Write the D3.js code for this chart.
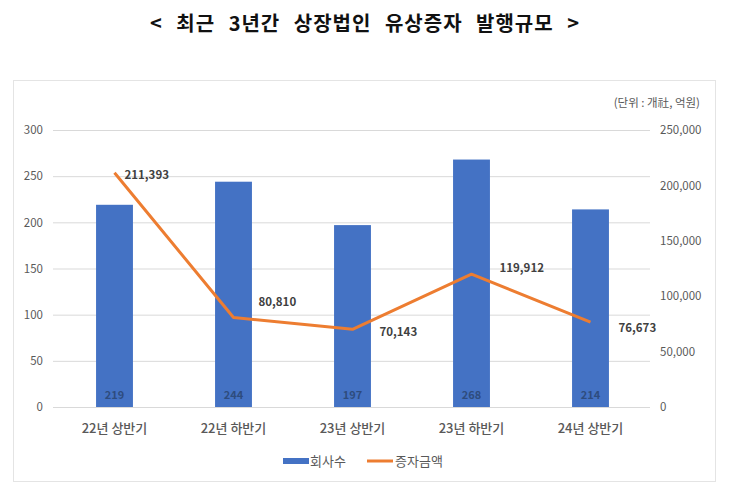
<!DOCTYPE html>
<html><head><meta charset="utf-8">
<script src="https://cdn.jsdelivr.net/npm/d3@7"></script>
<style>body{margin:0;background:#fff}svg{display:block}</style>
</head><body>
<svg id="c" width="730" height="498"></svg>
<script>
const categories = ["22년 상반기","22년 하반기","23년 상반기","23년 하반기","24년 상반기"];
const companyCounts = [219,244,197,268,214];
const issueAmounts = [211393,80810,70143,119912,76673];
const leftTicks = [0,50,100,150,200,250,300];
const rightTicks = [0,50000,100000,150000,200000,250000];
const seriesNames = ["회사수","증자금액"];
const titleText = "< 최근 3년간 상장법인 유상증자 발행규모 >";
const unitText = "(단위 : 개社, 억원)";
// label offsets (style)
const amtLabelOffsets = [[10,2],[25,-15],[27,3],[28,-6],[28,6]];

const svg = d3.select("#c");
const font = "'Noto Sans CJK KR','Noto Sans',sans-serif";
const blue = "#4472C4", orange = "#ED7D31", grid = "#D9D9D9", txt = "#595959";

svg.append("text").attr("x",365).attr("y",31).attr("text-anchor","middle")
  .attr("font-family",font).attr("font-weight","bold").attr("font-size",20).attr("fill","#111")
  .attr("letter-spacing",1).attr("word-spacing",8)
  .text(titleText);

svg.append("rect").attr("x",13.5).attr("y",80.5).attr("width",702).attr("height",401)
  .attr("fill","#fff").attr("stroke","#E4E4E4");

const x = d3.scaleBand().domain(categories).range([55,650]).paddingInner(0.69).paddingOuter(0.345);
const yL = d3.scaleLinear().domain([0,300]).range([407,130]);
const yR = d3.scaleLinear().domain([0,250000]).range([407,130]);

// gridlines
svg.append("g").selectAll("line").data(leftTicks).join("line")
  .attr("x1",53).attr("x2",650).attr("y1",d=>yL(d)+0.5).attr("y2",d=>yL(d)+0.5)
  .attr("stroke",grid).attr("stroke-width",1);

// left axis
const gL = svg.append("g").attr("transform","translate(53,0)")
  .call(d3.axisLeft(yL).tickValues(leftTicks).tickSize(0).tickPadding(10));
gL.select(".domain").remove();
gL.selectAll("text").attr("font-family",font).attr("font-size",11.5).attr("fill",txt);

// right axis
const gR = svg.append("g").attr("transform","translate(650,0)")
  .call(d3.axisRight(yR).tickValues(rightTicks).tickSize(0).tickPadding(10).tickFormat(d3.format(",")));
gR.select(".domain").remove();
gR.selectAll("text").attr("font-family",font).attr("font-size",11.5).attr("fill",txt);

// x axis
const gX = svg.append("g").attr("transform","translate(0,407)")
  .call(d3.axisBottom(x).tickSize(0).tickPadding(17));
gX.select(".domain").remove();
gX.selectAll("text").attr("font-family",font).attr("font-size",13).attr("font-weight","500").attr("fill",txt);

// bars
svg.append("g").selectAll("rect").data(companyCounts).join("rect")
  .attr("x",(d,i)=>x(categories[i])).attr("width",x.bandwidth())
  .attr("y",d=>yL(d)).attr("height",d=>yL(0)-yL(d)).attr("fill",blue);

svg.append("g").selectAll("text").data(companyCounts).join("text")
  .attr("x",(d,i)=>x(categories[i])+x.bandwidth()/2).attr("y",399)
  .attr("text-anchor","middle").attr("font-family",font).attr("font-size",11).attr("font-weight","bold")
  .attr("fill","#2E4C7E").text(d=>d);

// line
const cx = i => x(categories[i])+x.bandwidth()/2;
const line = d3.line().x((d,i)=>cx(i)).y(d=>yR(d));
svg.append("path").datum(issueAmounts).attr("d",line).attr("fill","none")
  .attr("stroke",orange).attr("stroke-width",3).attr("stroke-linejoin","round");

svg.append("g").selectAll("text").data(issueAmounts).join("text")
  .attr("x",(d,i)=>cx(i)+amtLabelOffsets[i][0]).attr("y",(d,i)=>yR(d)+amtLabelOffsets[i][1])
  .attr("dy","0.35em").attr("font-family",font).attr("font-size",11.5).attr("font-weight","bold")
  .attr("fill","#404040").text(d=>d3.format(",")(d));

// unit
svg.append("text").attr("x",700).attr("y",107).attr("text-anchor","end")
  .attr("font-family",font).attr("font-size",11.5).attr("fill",txt).text(unitText);

// legend
const lg = svg.append("g");
lg.append("rect").attr("x",283).attr("y",458).attr("width",26).attr("height",6).attr("fill",blue);
lg.append("text").attr("x",310).attr("y",461).attr("dy","0.35em").attr("font-family",font)
  .attr("font-size",13).attr("fill",txt).text(seriesNames[0]);
lg.append("line").attr("x1",367).attr("x2",393).attr("y1",461).attr("y2",461)
  .attr("stroke",orange).attr("stroke-width",3);
lg.append("text").attr("x",395).attr("y",461).attr("dy","0.35em").attr("font-family",font)
  .attr("font-size",13).attr("fill",txt).text(seriesNames[1]);
</script>
</body></html>
